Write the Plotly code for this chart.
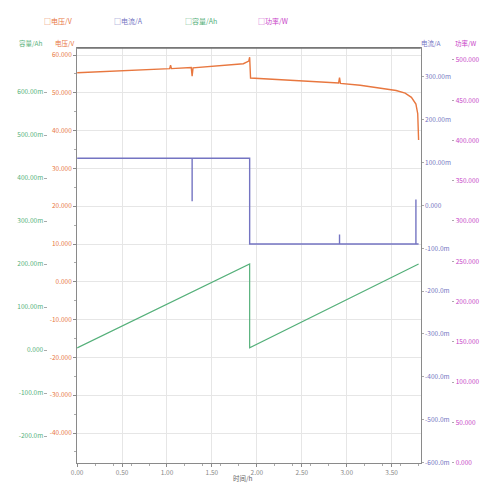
import plotly.graph_objects as go

# ---------------- data ----------------
volt_t = [0.00, 0.20, 0.45, 0.70, 0.95, 1.03, 1.04, 1.05, 1.27, 1.28, 1.29, 1.45, 1.65, 1.85, 1.91, 1.92,
          1.93, 2.10, 2.40, 2.70, 2.91, 2.92, 2.93, 3.15, 3.38, 3.55, 3.65, 3.72, 3.77, 3.79, 3.80]
volt_v = [55.3, 55.5, 55.8, 56.0, 56.3, 56.4, 57.3, 56.4, 56.7, 54.4, 56.6, 56.9, 57.2, 57.7, 58.4, 59.4,
          53.9, 53.7, 53.3, 52.9, 52.6, 54.0, 52.5, 52.0, 51.3, 50.6, 49.9, 48.8, 47.0, 44.5, 37.5]

curr_t = [0.00, 1.28, 1.28, 1.28, 1.92, 1.92, 2.92, 2.92, 2.92, 3.77, 3.77, 3.77, 3.80]
curr_a = [0.11, 0.11, 0.01, 0.11, 0.11, -0.09, -0.09, -0.068, -0.09, -0.09, 0.014, -0.09, -0.09]

cap_t = [0.00, 1.92, 1.92, 3.80]
cap_ah = [0.005, 0.200, 0.005, 0.200]

power_t = []
power_w = []

x_ticks = [0.0, 0.5, 1.0, 1.5, 2.0, 2.5, 3.0, 3.5]
x_labels = ["0.00", "0.50", "1.00", "1.50", "2.00", "2.50", "3.00", "3.50"]

volt_ticks = [60, 50, 40, 30, 20, 10, 0, -10, -20, -30, -40]
volt_labels = ["60.000", "50.000", "40.000", "30.000", "20.000", "10.000", "0.000",
               "-10.000", "-20.000", "-30.000", "-40.000"]

cap_ticks = [0.6, 0.5, 0.4, 0.3, 0.2, 0.1, 0.0, -0.1, -0.2]
cap_labels = ["600.00m", "500.00m", "400.00m", "300.00m", "200.00m", "100.00m", "0.000",
              "-100.0m", "-200.0m"]

curr_ticks = [0.3, 0.2, 0.1, 0.0, -0.1, -0.2, -0.3, -0.4, -0.5, -0.6]
curr_labels = ["300.00m", "200.00m", "100.00m", "0.000", "-100.0m", "-200.0m",
               "-300.0m", "-400.0m", "-500.0m", "-600.0m"]

pow_ticks = [500, 450, 400, 350, 300, 250, 200, 150, 100, 50, 0]
pow_labels = ["500.000", "450.000", "400.000", "350.000", "300.000", "250.000", "200.000",
              "150.000", "100.000", "50.000", "0.000"]

legend_names = ["电压/V", "电流/A", "容量/Ah", "功率/W"]

# ---------------- style ----------------
C_V = "#E8773F"
C_I = "#7474C2"
C_Q = "#55B07A"
C_P = "#C83FC8"
FONT = "Noto Sans CJK SC"

W, H = 483, 484
L_PX, R_PX, T_PX, B_PX = 72, 420, 48, 463
plot_h = B_PX - T_PX

fig = go.Figure()
fig.add_trace(go.Scatter(x=volt_t, y=volt_v, mode="lines", line=dict(color=C_V, width=1.4),
                         name=legend_names[0], yaxis="y"))
fig.add_trace(go.Scatter(x=cap_t, y=cap_ah, mode="lines", line=dict(color=C_Q, width=1.2),
                         name=legend_names[2], yaxis="y2"))
fig.add_trace(go.Scatter(x=curr_t, y=curr_a, mode="lines", line=dict(color=C_I, width=1.4),
                         name=legend_names[1], yaxis="y3"))
fig.add_trace(go.Scatter(x=power_t, y=power_w, mode="lines", line=dict(color=C_P, width=1.2),
                         name=legend_names[3], yaxis="y4"))


def rng(top_val, top_px, step_val, step_px, bottom_pad=0.0):
    per_px = step_val / step_px
    hi = top_val + (top_px - T_PX) * per_px
    lo = top_val - (B_PX + bottom_pad - top_px) * per_px
    return [lo, hi]


def py(p):
    # pixel row -> paper y (relative to plot area)
    return (B_PX - p) / plot_h


tickfont = lambda c: dict(family=FONT, size=6.5, color=c)

fig.update_layout(
    width=W, height=H,
    margin=dict(l=0, r=0, t=T_PX, b=H - B_PX, pad=0),
    paper_bgcolor="white", plot_bgcolor="white",
    showlegend=False,
    xaxis=dict(domain=[L_PX / W, R_PX / W], range=[0, (R_PX - L_PX) / 91.0],
               tickvals=x_ticks, ticktext=x_labels, tickfont=tickfont("#888888"),
               showgrid=True, gridcolor="#E6E6E6", gridwidth=1,
               showline=True, linecolor="#8A8A8A", linewidth=1, mirror=True,
               ticks="outside", ticklen=3, tickcolor="#8A8A8A",
               minor=dict(ticks="outside", ticklen=2, tickcolor="#AAAAAA", nticks=5),
               zeroline=False),
    yaxis=dict(range=rng(60, 55, 10, 37.8), tickvals=volt_ticks, ticktext=volt_labels,
               tickfont=tickfont(C_V), showgrid=True, gridcolor="#E6E6E6",
               showline=True, linecolor="#8A8A8A", linewidth=1, mirror=True,
               ticks="outside", ticklen=3, tickcolor="#8A8A8A",
               minor=dict(ticks="outside", ticklen=2, tickcolor="#AAAAAA", nticks=5),
               zeroline=False),
    yaxis2=dict(range=rng(0.6, 92, 0.1, 43.0), tickvals=cap_ticks, ticktext=cap_labels,
                tickfont=tickfont(C_Q), overlaying="y", anchor="free", side="left",
                position=42 / W, showgrid=False, showline=False, zeroline=False,
                ticks="outside", ticklen=3, tickcolor="#AAAAAA"),
    yaxis3=dict(range=rng(0.3, 77, 0.1, 43.0, bottom_pad=1.5), tickvals=curr_ticks, ticktext=curr_labels,
                tickfont=tickfont(C_I), overlaying="y", anchor="x", side="right",
                showgrid=False, showline=False, zeroline=False,
                ticks="outside", ticklen=2, tickcolor="#AAAAAA"),
    yaxis4=dict(range=rng(500, 60, 50, 40.3, bottom_pad=0.5), tickvals=pow_ticks, ticktext=pow_labels,
                tickfont=tickfont(C_P), overlaying="y", anchor="free", side="right",
                position=451 / W, showgrid=False, showline=False, zeroline=False,
                ticks="outside", ticklen=2, tickcolor="#AAAAAA"),
)

# top frame line is a little darker in the reference
fig.add_shape(type="line", xref="paper", yref="paper", x0=L_PX / W, x1=R_PX / W, y0=1, y1=1,
              line=dict(color="#707070", width=1.5))

# legend row (checkbox style) and axis headers
legend_x = [53, 124, 197, 270]
legend_c = [C_V, C_I, C_Q, C_P]
for name, px, col in zip(legend_names, legend_x, legend_c):
    fig.add_annotation(text="□" + name, x=px / W, y=py(21), xref="paper", yref="paper",
                       yanchor="middle", xanchor="center", showarrow=False,
                       font=dict(family=FONT, size=7, color=col))

headers = [("容量/Ah", 25, C_Q), ("电压/V", 60, C_V), ("电流/A", 430, C_I), ("功率/W", 466, C_P)]
for text, px, col in headers:
    fig.add_annotation(text=text, x=px / W, xref="paper", y=py(43), yref="paper",
                       yanchor="middle", xanchor="center", showarrow=False,
                       font=dict(family=FONT, size=6.5, color=col))

fig.add_annotation(text="时间/h", x=240 / W, xref="paper",
                   y=py(478), yref="paper", yanchor="middle", xanchor="center",
                   showarrow=False, font=dict(family=FONT, size=6.5, color="#666666"))

fig.write_html("out.html", config={"displayModeBar": False},
               post_script="document.body.style.margin='0';")
